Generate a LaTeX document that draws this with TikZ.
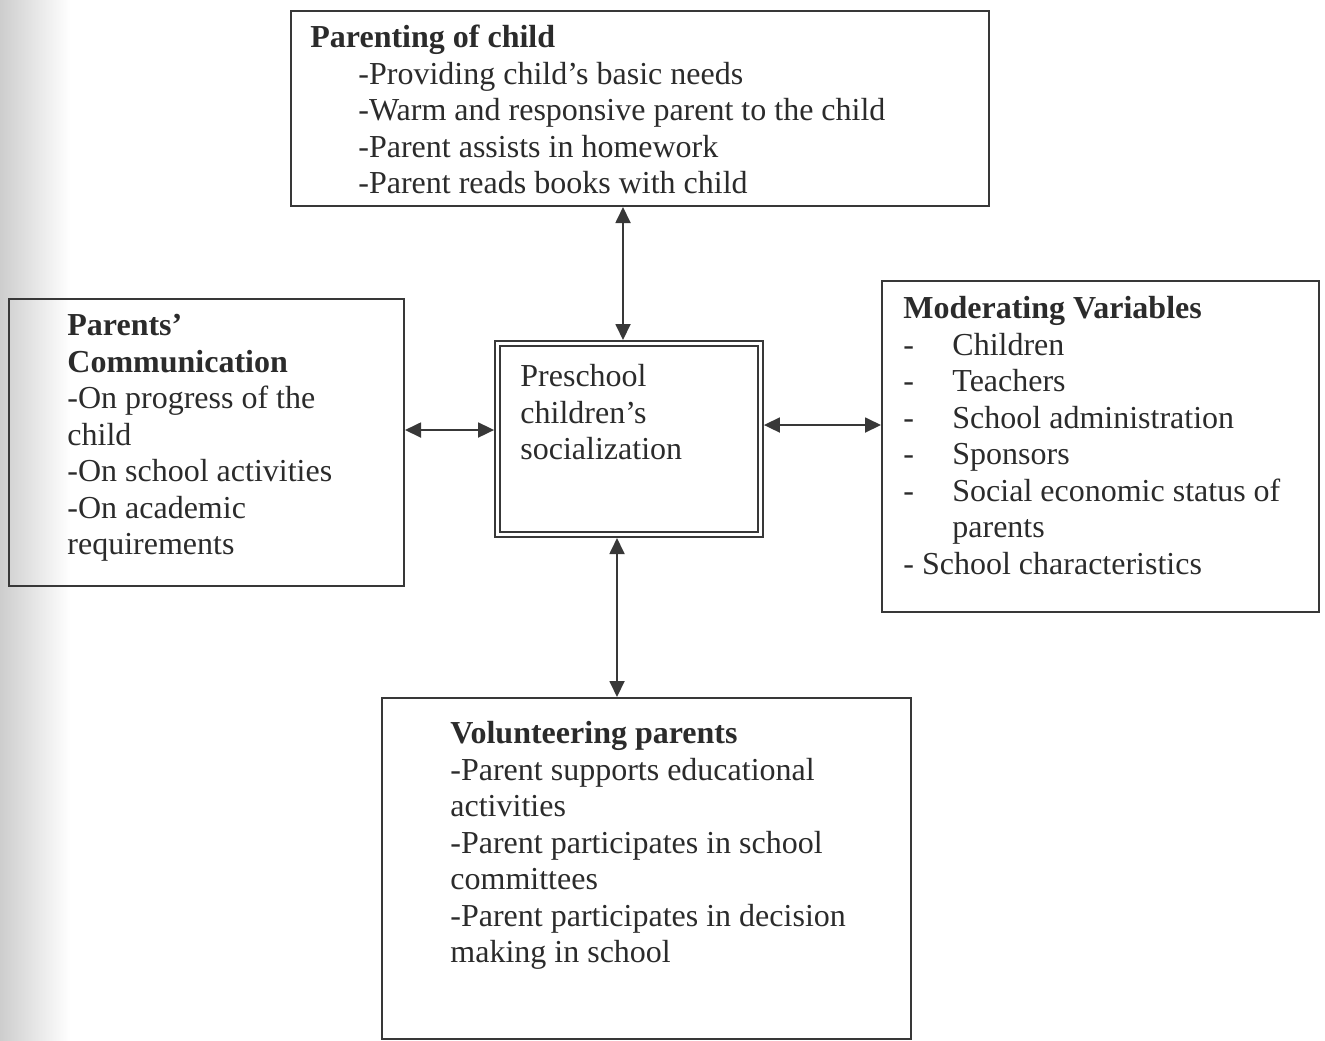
\documentclass[tikz,border=0pt]{standalone}
\usepackage{fontspec}
\setmainfont{Liberation Serif}
\usepackage{xcolor}
\usepackage{tikz}
\usetikzlibrary{arrows.meta,positioning,calc}
\definecolor{ink}{HTML}{2b2b2b}
\definecolor{frame}{HTML}{383838}
\definecolor{scan}{HTML}{cdcdcd}

\tikzset{
    box/.style n args={2}{draw=frame,line width=1pt,inner sep=0pt,anchor=north west,
        minimum width=#1,minimum height=#2},
    txt/.style={anchor=north west,inner sep=0pt,align=left,text=ink,
        font=\fontsize{16}{18.25}\selectfont},
    link/.style={draw=frame,line width=0.9pt,
        {Triangle[length=8pt,width=7.5pt]}-{Triangle[length=8pt,width=7.5pt]}}
}

\begin{document}
\begin{tikzpicture}[x=0.5pt,y=-0.5pt]
    \useasboundingbox (0,0) rectangle (1325,1040);
    \shade[left color=scan,right color=white] (0,0) rectangle (70,1040);

    \node[box={349pt}{97.5pt}] (toppar) at (290,10) {};
    \node[box={197.5pt}{143.5pt}] (leftcom) at (8,298) {};
    \node[box={218.5pt}{165.5pt}] (rightmod) at (881,280) {};
    \node[box={264.5pt}{170.5pt}] (botvol) at (381,697) {};
    \node[draw=frame,line width=0.9pt,double,double distance=1.6pt,outer sep=1.7pt,
        minimum width=131.5pt,minimum height=95.6pt] (centre) at (629,439) {};

    \node[txt] (toptext) at (310,25) {\textbf{Parenting of child}\\
        \hspace*{24pt}-Providing child’s basic needs\\
        \hspace*{24pt}-Warm and responsive parent to the child\\
        \hspace*{24pt}-Parent assists in homework\\
        \hspace*{24pt}-Parent reads books with child};
    \node[txt] (lefttext) at (67,314) {\textbf{Parents’}\\
        \textbf{Communication}\\
        -On progress of the\\
        child\\
        -On school activities\\
        -On academic\\
        requirements};
    \node[txt] (centretext) at (520,364) {Preschool\\
        children’s\\
        socialization};
    \node[txt] (righttext) at (903,296) {\textbf{Moderating Variables}\\
        \makebox[24.5pt][l]{-}Children\\
        \makebox[24.5pt][l]{-}Teachers\\
        \makebox[24.5pt][l]{-}School administration\\
        \makebox[24.5pt][l]{-}Sponsors\\
        \makebox[24.5pt][l]{-}Social economic status of\\
        \hspace*{24.5pt}parents\\
        - School characteristics};
    \node[txt] (bottext) at (450,721) {\textbf{Volunteering parents}\\
        -Parent supports educational\\
        activities\\
        -Parent participates in school\\
        committees\\
        -Parent participates in decision\\
        making in school};

    \coordinate (tpt) at ([xshift=-3pt]centre.north);
    \coordinate (bpt) at ([xshift=-6pt]centre.south);
    \coordinate (lpt) at ([yshift=4.5pt]centre.west);
    \coordinate (rpt) at ([yshift=7pt]centre.east);
    \draw[link] (tpt) -- (tpt |- toppar.south);
    \draw[link] (bpt) -- (bpt |- botvol.north);
    \draw[link] (lpt) -- (lpt -| leftcom.east);
    \draw[link] (rpt) -- (rpt -| rightmod.west);
\end{tikzpicture}
\end{document}
